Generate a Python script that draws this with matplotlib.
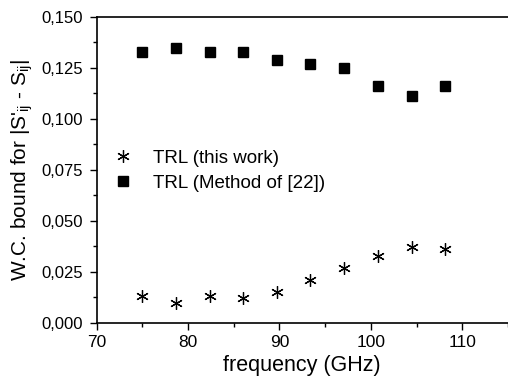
import matplotlib
matplotlib.use('Agg')
import matplotlib.pyplot as plt
from matplotlib.ticker import FuncFormatter, MultipleLocator

plt.rcParams['font.family'] = ['Liberation Sans', 'DejaVu Sans']
plt.rcParams['mathtext.fontset'] = 'custom'
plt.rcParams['mathtext.rm'] = 'Liberation Sans'
plt.rcParams['mathtext.it'] = 'Liberation Sans'

freq = [75.0, 78.65, 82.4, 86.0, 89.7, 93.4, 97.1, 100.8, 104.5, 108.1]
trl_this = [0.013, 0.010, 0.013, 0.012, 0.015, 0.021, 0.027, 0.033, 0.037, 0.036]
trl_22 = [0.133, 0.135, 0.133, 0.133, 0.129, 0.127, 0.125, 0.116, 0.111, 0.116]

fig = plt.figure(figsize=(5.08, 3.84), dpi=100)
ax = fig.add_axes([0.19, 0.159, 0.81, 0.797])

ax.plot(freq, trl_this, linestyle='none', marker=(6, 2, 0), markersize=9,
        markeredgewidth=0.9, color='black', label='TRL (this work)')
ax.plot(freq, trl_22, linestyle='none', marker='s', markersize=6.5,
        color='black', label='TRL (Method of [22])')

ax.set_xlim(70, 115)
ax.set_ylim(0, 0.150)
ax.xaxis.set_major_locator(MultipleLocator(10))
ax.xaxis.set_minor_locator(MultipleLocator(5))
ax.yaxis.set_major_locator(MultipleLocator(0.025))
ax.yaxis.set_minor_locator(MultipleLocator(0.0125))
ax.yaxis.set_major_formatter(FuncFormatter(lambda v, p: f'{v:.3f}'.replace('.', ',')))

ax.tick_params(which='both', direction='out', width=1)
ax.tick_params(which='major', length=5, labelsize=12.5)
ax.tick_params(which='minor', length=3)
ax.tick_params(axis='y', labelsize=12, pad=5)
for s in ['top', 'left', 'bottom']:
    ax.spines[s].set_linewidth(1.2)
ax.spines['right'].set_visible(False)

ax.set_xlabel('frequency (GHz)', fontsize=15.5, labelpad=4)
ax.set_ylabel("W.C. bound for |S'$_{\\mathregular{ij}}$ - S$_{\\mathregular{ij}}$|", fontsize=15, labelpad=4)

ax.legend(loc='upper left', bbox_to_anchor=(0.0, 0.59), frameon=False,
          fontsize=13.5, handletextpad=0.6, borderaxespad=0, labelspacing=0.4)

fig.savefig('out.png', dpi=100)
